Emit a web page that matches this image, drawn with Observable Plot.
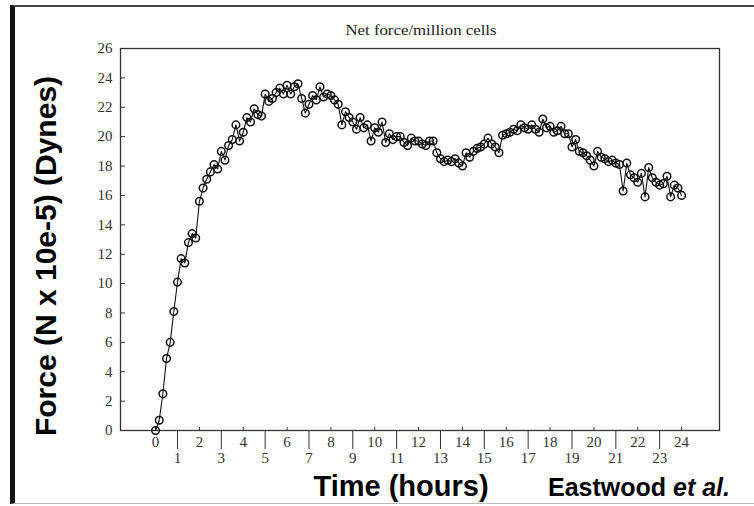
<!DOCTYPE html>
<html><head><meta charset="utf-8">
<script src="https://cdn.jsdelivr.net/npm/d3@7"></script>
<script src="https://cdn.jsdelivr.net/npm/@observablehq/plot@0.6"></script>
<style>
html,body{margin:0;padding:0;background:#fff;}
#wrap{position:relative;width:754px;height:506px;overflow:hidden;}
#frame{position:absolute;left:10px;top:5px;width:760px;height:496px;border-left:5px solid #111;border-top:2px solid #444;border-bottom:1px solid #bbb;}
#chart{position:absolute;left:0;top:0;}
.t{position:absolute;white-space:nowrap;line-height:1;}
#title{font-family:"Liberation Serif",serif;font-size:14px;color:#222;left:421px;top:24px;transform:translateX(-50%) scaleX(1.2);}
#ylab{font-family:"Liberation Sans",Arial,sans-serif;font-weight:bold;font-size:30px;color:#000;left:46px;top:256px;transform:translate(-50%,-50%) rotate(-90deg);}
#xlab{font-family:"Liberation Sans",Arial,sans-serif;font-weight:bold;font-size:29px;color:#000;left:401px;top:472px;transform:translateX(-50%);}
#credit{font-family:"Liberation Sans",Arial,sans-serif;font-weight:bold;font-size:25px;color:#000;left:548px;top:475px;}
</style>
</head><body>
<div id="wrap">
<div id="frame"></div>
<div id="chart"></div>
<div class="t" id="title">Net force/million cells</div>
<div class="t" id="ylab">Force (N x 10e-5) (Dynes)</div>
<div class="t" id="xlab">Time (hours)</div>
<div class="t" id="credit">Eastwood <i>et al.</i></div>
</div>
<script>
// sampling interval of the recording (minutes)
const sampleMinutes = 10;
// net force readings (N x 10e-5), one per sample
const force = [
  0.0, 0.7, 2.5, 4.9, 6.0, 8.1, 10.1, 11.7, 11.4, 12.8, 13.4, 13.1,
  15.6, 16.5, 17.1, 17.6, 18.1, 17.8, 19.0, 18.4, 19.4, 19.8, 20.8, 19.7,
  20.3, 21.3, 21.0, 21.9, 21.5, 21.4, 22.9, 22.4, 22.6, 23.0, 23.3, 22.9,
  23.5, 22.9, 23.4, 23.6, 22.6, 21.6, 22.2, 22.8, 22.5, 23.4, 22.7, 22.9,
  22.8, 22.5, 22.2, 20.8, 21.7, 21.3, 21.0, 20.5, 21.3, 20.6, 20.8, 19.7,
  20.6, 20.3, 21.0, 19.6, 20.2, 19.8, 20.0, 20.0, 19.6, 19.4, 19.9, 19.7,
  19.7, 19.5, 19.4, 19.7, 19.7, 18.9, 18.5, 18.3, 18.4, 18.3, 18.5, 18.2,
  18.0, 18.9, 18.6, 19.0, 19.2, 19.3, 19.5, 19.9, 19.5, 19.3, 18.9, 20.1,
  20.2, 20.3, 20.5, 20.4, 20.8, 20.6, 20.5, 20.8, 20.5, 20.3, 21.2, 20.6,
  20.7, 20.3, 20.4, 20.7, 20.2, 20.2, 19.3, 19.8, 19.0, 18.9, 18.7, 18.4,
  18.0, 19.0, 18.6, 18.5, 18.3, 18.4, 18.2, 18.1, 16.3, 18.2, 17.4, 17.2,
  16.9, 17.5, 15.9, 17.9, 17.2, 16.9, 16.7, 16.8, 17.3, 15.9, 16.7, 16.5,
  16.0
];
const yTicks = [0, 2, 4, 6, 8, 10, 12, 14, 16, 18, 20, 22, 24, 26];
const evenHours = [0, 2, 4, 6, 8, 10, 12, 14, 16, 18, 20, 22, 24];
const oddHours = [1, 3, 5, 7, 9, 11, 13, 15, 17, 19, 21, 23];

const data = force.map((f, i) => ({t: i * sampleMinutes / 60, f}));

const chart = Plot.plot({
  width: 754,
  height: 506,
  marginLeft: 120,
  marginRight: 35,
  marginTop: 48,
  marginBottom: 76,
  x: {domain: [-1.6, 25.73]},
  y: {domain: [0, 26]},
  style: {fontFamily: "'Liberation Serif', serif", fontSize: "14px", color: "#333", background: "transparent"},
  marks: [
    Plot.frame({stroke: "#333", strokeWidth: 1.3}),
    Plot.axisY(yTicks, {tickSize: 0, tickPadding: 8, label: null, fontSize: 15}),
    Plot.axisY(yTicks, {tickSize: -5, fill: "none", label: null}),
    Plot.axisX(evenHours, {tickSize: -3, fill: "none", label: null}),
    Plot.axisX(evenHours, {tickSize: 0, tickPadding: 6, label: null, fontSize: 15}),
    Plot.axisX(oddHours, {tickSize: 19, tickPadding: 3, label: null, fontSize: 15}),
    Plot.line(data, {x: "t", y: "f", stroke: "#111", strokeWidth: 1.1}),
    Plot.dot(data, {x: "t", y: "f", r: 3.8, stroke: "#111", fill: "none", strokeWidth: 1.5})
  ]
});
document.getElementById("chart").appendChild(chart);
</script>
</body></html>
